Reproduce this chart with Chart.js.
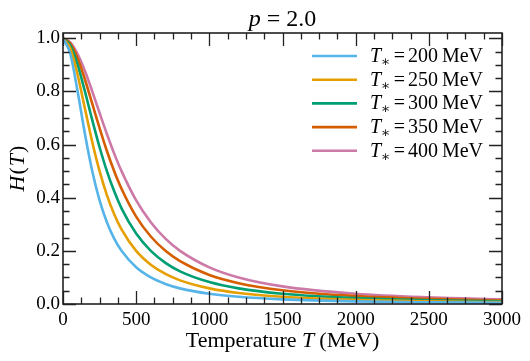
<!DOCTYPE html>
<html>
<head>
<meta charset="utf-8">
<script src="https://cdn.jsdelivr.net/npm/chart.js@4"></script>
<style>
  html, body { margin: 0; padding: 0; background: #fff; }
  #wrap { width: 530px; height: 361px; }
</style>
</head>
<body>
<div id="wrap"><canvas id="hgraph" width="530" height="361"></canvas></div>
<script>
const temps = [0, 50, 100, 150, 200, 250, 300, 350, 400, 500, 600, 700, 800, 1000, 1200, 1500, 2000, 2500, 3000];

// H(T) for each T_*
const h200 = [1.0, 0.941, 0.800, 0.640, 0.500, 0.390, 0.308, 0.246, 0.200, 0.138, 0.100, 0.0755, 0.0588, 0.0385, 0.0270, 0.0175, 0.0099, 0.0064, 0.0044];
const h250 = [1.0, 0.962, 0.862, 0.735, 0.610, 0.500, 0.410, 0.338, 0.281, 0.200, 0.148, 0.113, 0.089, 0.0588, 0.0416, 0.0270, 0.0154, 0.0099, 0.0069];
const h300 = [1.0, 0.973, 0.900, 0.800, 0.692, 0.590, 0.500, 0.424, 0.360, 0.265, 0.200, 0.155, 0.123, 0.0826, 0.0588, 0.0385, 0.0220, 0.0142, 0.0099];
const h350 = [1.0, 0.980, 0.925, 0.845, 0.754, 0.662, 0.576, 0.500, 0.434, 0.329, 0.254, 0.200, 0.161, 0.109, 0.0784, 0.0516, 0.0297, 0.0192, 0.0134];
const h400 = [1.0, 0.985, 0.941, 0.877, 0.800, 0.719, 0.640, 0.566, 0.500, 0.390, 0.308, 0.246, 0.200, 0.138, 0.100, 0.0664, 0.0385, 0.0250, 0.0175];

const tstars = ['200', '250', '300', '350', '400'];
const colors = ['#56B4E9', '#E69F00', '#009E73', '#D55E00', '#CC79A7'];

const xTicks = [0, 500, 1000, 1500, 2000, 2500, 3000];
const yTicks = [0.0, 0.2, 0.4, 0.6, 0.8, 1.0];

const SERIF = '"Liberation Serif", "DejaVu Serif", serif';

function pts(ys) {
    return temps.map((t, i) => ({ x: t, y: ys[i] }));
}

// draw a run of text pieces (some italic, some shifted down)
function drawRich(ctx, parts, x, y, align) {
    let total = 0;
    parts.forEach(p => { ctx.font = p.font; total += ctx.measureText(p.t).width + (p.gap || 0); });
    let cx = align === 'center' ? x - total / 2 : x;
    ctx.textBaseline = 'alphabetic';
    ctx.textAlign = 'left';
    parts.forEach(p => {
        ctx.font = p.font;
        ctx.fillText(p.t, cx, y + (p.dy || 0));
        cx += ctx.measureText(p.t).width + (p.gap || 0);
    });
}

const decorPlugin = {
    id: 'decor',
    afterDatasetsDraw(chart) {
        const ctx = chart.ctx;
        const a = chart.chartArea;
        const xs = chart.scales.x, ys = chart.scales.y;
        ctx.save();
        ctx.strokeStyle = '#222';
        ctx.fillStyle = '#000';

        // ticks, inward on all four sides
        ctx.lineWidth = 1.3;
        ctx.beginPath();
        for (let v = 0; v <= 3000; v += 125) {
            const px = Math.round(xs.getPixelForValue(v)) + 0.5;
            const len = v % 500 === 0 ? 13 : 6.5;
            ctx.moveTo(px, a.bottom); ctx.lineTo(px, a.bottom - len);
            ctx.moveTo(px, a.top); ctx.lineTo(px, a.top + len);
        }
        for (let k = 0; k <= 20; k++) {
            const v = k * 0.05;
            const py = Math.round(ys.getPixelForValue(v)) + 0.5;
            const len = k % 4 === 0 ? 13 : 6.5;
            ctx.moveTo(a.left, py); ctx.lineTo(a.left + len, py);
            ctx.moveTo(a.right, py); ctx.lineTo(a.right - len, py);
        }
        ctx.stroke();

        // frame
        ctx.lineWidth = 1.6;
        ctx.strokeRect(a.left, a.top, a.right - a.left, a.bottom - a.top);

        const mid = (a.left + a.right) / 2;

        // title
        drawRich(ctx, [
            { t: 'p', font: 'italic 24px ' + SERIF, gap: 6 },
            { t: '=', font: '24px ' + SERIF, gap: 6 },
            { t: '2.0', font: '24px ' + SERIF }
        ], mid, 26, 'center');

        // x label
        drawRich(ctx, [
            { t: 'Temperature ', font: '22px ' + SERIF },
            { t: 'T', font: 'italic 22px ' + SERIF, gap: 5 },
            { t: '(MeV)', font: '22px ' + SERIF }
        ], mid, 347, 'center');

        // y label
        ctx.save();
        ctx.translate(24, (a.top + a.bottom) / 2);
        ctx.rotate(-Math.PI / 2);
        drawRich(ctx, [
            { t: 'H', font: 'italic 22px ' + SERIF, gap: 1 },
            { t: '(', font: '22px ' + SERIF, gap: 1 },
            { t: 'T', font: 'italic 22px ' + SERIF, gap: 1 },
            { t: ')', font: '22px ' + SERIF }
        ], 0, 0, 'center');
        ctx.restore();

        // legend
        chart.data.datasets.forEach((ds, i) => {
            const ly = 56 + i * 23.7;
            ctx.strokeStyle = ds.borderColor;
            ctx.lineWidth = 2.6;
            ctx.beginPath();
            ctx.moveTo(312, ly); ctx.lineTo(357, ly);
            ctx.stroke();
            ctx.fillStyle = '#000';
            drawRich(ctx, [
                { t: 'T', font: 'italic 20px ' + SERIF, gap: 0 },
                { t: '\u2217', font: '14px ' + SERIF, dy: 4, gap: 3 },
                { t: '=', font: '20px ' + SERIF, gap: 3 },
                { t: tstars[i], font: '20px ' + SERIF, gap: 4 },
                { t: 'MeV', font: '20px ' + SERIF }
            ], 370, ly + 6, 'left');
        });
        ctx.restore();
    }
};

const seriesList = [h200, h250, h300, h350, h400];

const datasets = seriesList.map((s, i) => ({
    label: 'T* = ' + tstars[i] + ' MeV',
    data: pts(s),
    borderColor: colors[i],
    backgroundColor: colors[i],
    borderWidth: 2.6,
    pointRadius: 0,
    fill: false,
    cubicInterpolationMode: 'monotone'
}));

const ctx = document.getElementById('hgraph').getContext('2d');
new Chart(ctx, {
    type: 'line',
    data: { datasets: datasets },
    options: {
        responsive: false,
        animation: false,
        layout: { padding: { top: 33, right: 28, left: 0, bottom: 0 } },
        plugins: {
            legend: { display: false },
            tooltip: { enabled: false },
            title: { display: false }
        },
        scales: {
            x: {
                type: 'linear',
                min: 0,
                max: 3000,
                grid: { display: false, drawTicks: false },
                border: { display: false },
                afterBuildTicks(scale) { scale.ticks = xTicks.map(v => ({ value: v })); },
                afterFit(scale) { scale.height = 57; },
                ticks: {
                    padding: 5,
                    color: '#000',
                    maxRotation: 0,
                    font: { family: SERIF, size: 19 },
                    callback: v => String(v)
                }
            },
            y: {
                min: 0,
                max: 1.02,
                grid: { display: false, drawTicks: false },
                border: { display: false },
                afterBuildTicks(scale) { scale.ticks = yTicks.map(v => ({ value: v })); },
                afterFit(scale) { scale.width = 63; },
                ticks: {
                    padding: 3,
                    color: '#000',
                    font: { family: SERIF, size: 19 },
                    callback: v => Number(v).toFixed(1)
                }
            }
        }
    },
    plugins: [decorPlugin]
});
</script>
</body>
</html>
